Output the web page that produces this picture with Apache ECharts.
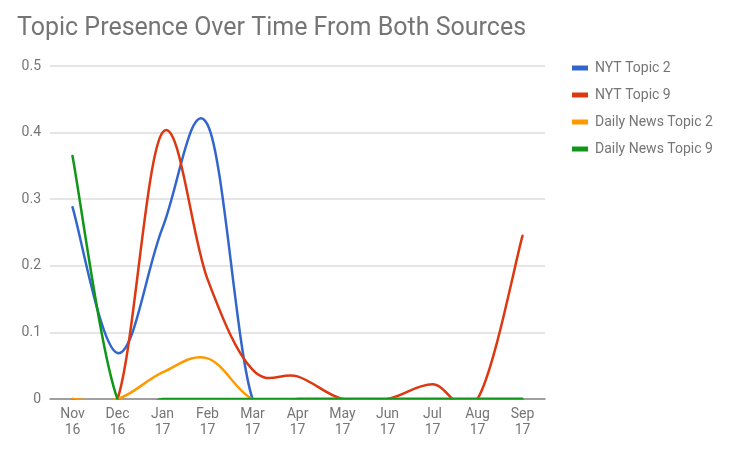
<!DOCTYPE html>
<html>
<head>
<meta charset="utf-8">
<script src="https://cdn.jsdelivr.net/npm/echarts@6/dist/echarts.min.js"></script>
<style>html,body{margin:0;padding:0;background:#fff}#c{width:734px;height:449px}</style>
</head>
<body>
<div id="c"></div>
<script>
var categories = ['Nov\n16','Dec\n16','Jan\n17','Feb\n17','Mar\n17','Apr\n17','May\n17','Jun\n17','Jul\n17','Aug\n17','Sep\n17'];
var nytTopic2 = [0.288, 0.069, 0.257, 0.412, 0, 0, 0, 0, 0, 0, 0];
var nytTopic9 = [0, 0, 0.400, 0.18, 0.044, 0.034, 0, 0, 0.022, 0, 0.245];
var dnTopic2  = [0, 0, 0.04, 0.061, 0, 0, 0, 0, 0, 0, 0];
var dnTopic9  = [0.365, 0, 0, 0, 0, 0, 0, 0, 0, 0, 0];
var seriesNames = ['NYT Topic 2','NYT Topic 9','Daily News Topic 2','Daily News Topic 9'];
var colors = ['#3366cc','#dc3912','#ff9900','#109618'];

var chart = echarts.init(document.getElementById('c'));

// smooth curve through the points given by the axes (Catmull-Rom as cubic Bezier)
function curveSeries(name, values, color){
  return {
    name: name, type: 'custom', coordinateSystem: 'cartesian2d',
    itemStyle: {color: color},
    encode: {x: 0, y: 1},
    data: values.map(function(v, i){ return [i, v]; }),
    renderItem: function(params, api){
      if (params.dataIndex !== 0) return null;
      var pts = values.map(function(v, i){ return api.coord([i, v]); });
      var n = pts.length;
      var d = 'M' + pts[0][0] + ' ' + pts[0][1];
      for (var i = 0; i < n - 1; i++) {
        var p0 = pts[i > 0 ? i - 1 : i], p1 = pts[i], p2 = pts[i + 1], p3 = pts[i + 2 < n ? i + 2 : i + 1];
        var c1x = p1[0] + (p2[0] - p0[0]) / 5.5, c1y = p1[1] + (p2[1] - p0[1]) / 5.5;
        var c2x = p2[0] - (p3[0] - p1[0]) / 5.5, c2y = p2[1] - (p3[1] - p1[1]) / 5.5;
        d += ' C' + c1x + ' ' + c1y + ' ' + c2x + ' ' + c2y + ' ' + p2[0] + ' ' + p2[1];
      }
      var cs = params.coordSys;
      return {
        type: 'group',
        clipPath: {type: 'rect', shape: {x: cs.x - 5, y: cs.y - 5, width: cs.width + 10, height: cs.height + 5.6}},
        children: [{
          type: 'path',
          shape: {pathData: d},
          style: {stroke: color, lineWidth: 2.5, fill: null, lineJoin: 'round', lineCap: 'round'}
        }]
      };
    }
  };
}

chart.setOption({
  animation: false,
  textStyle: {fontFamily: 'Roboto'},
  title: {text: 'Topic Presence Over Time From Both Sources', left: 12, top: 11,
    textStyle: {fontFamily: 'Roboto', fontSize: 25, fontWeight: 'normal', color: '#757575'}},
  legend: {orient: 'vertical', left: 567, top: 56, icon: 'rect', itemWidth: 16, itemHeight: 5, itemGap: 13,
    textStyle: {fontFamily: 'Roboto', fontSize: 14, color: '#757575', lineHeight: 14, padding: [0, 0, 0, 2]},
    data: seriesNames},
  grid: {left: 50, right: 189, top: 66, bottom: 50, containLabel: false},
  xAxis: {type: 'category', data: categories, boundaryGap: true,
    axisLine: {show: true, lineStyle: {color: '#888', width: 1.5}},
    axisTick: {show: false},
    axisLabel: {color: '#757575', fontSize: 14, lineHeight: 16, margin: 7, interval: 0}},
  yAxis: {type: 'value', min: 0, max: 0.5, interval: 0.1,
    axisLine: {show: false}, axisTick: {show: false},
    splitLine: {lineStyle: {color: '#dcdcdc', width: 1.5}},
    axisLabel: {color: '#757575', fontSize: 14, margin: 9}},
  series: [curveSeries(seriesNames[0], nytTopic2, colors[0]), curveSeries(seriesNames[1], nytTopic9, colors[1]),
           curveSeries(seriesNames[2], dnTopic2, colors[2]), curveSeries(seriesNames[3], dnTopic9, colors[3])]
});
</script>
</body>
</html>
